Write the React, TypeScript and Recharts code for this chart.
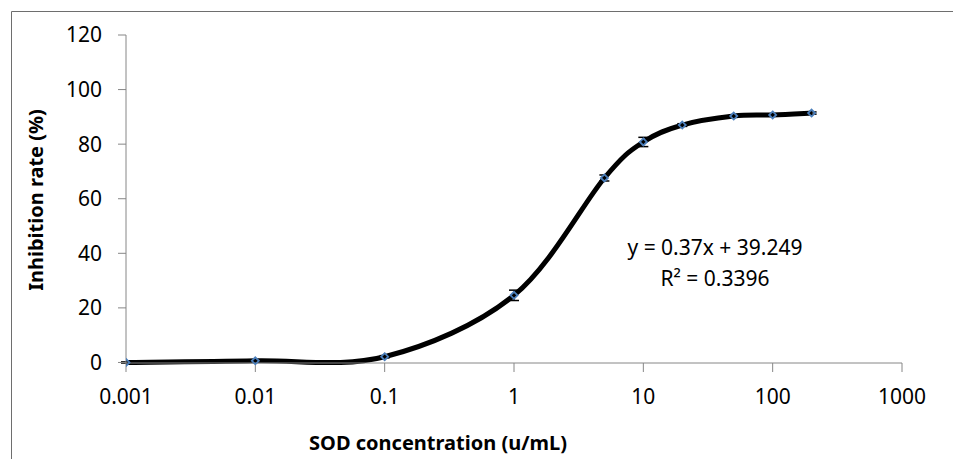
import React from "react";
import { ErrorBar, Line, LineChart, XAxis, YAxis } from "recharts";

const concentrations = [0.001, 0.01, 0.1, 1, 5, 10, 20, 50, 100, 200];
const inhibition = [0, 0.6, 2.1, 24.6, 67.6, 80.8, 87.0, 90.3, 90.7, 91.4];
const errors = [0.2, 0.2, 0.4, 1.9, 1.1, 1.7, 0.5, 0.4, 0.4, 0.4];

const xTicks = [0.001, 0.01, 0.1, 1, 10, 100, 1000];
const yTicks = [0, 20, 40, 60, 80, 100, 120];

const trendEquation = "y = 0.37x + 39.249";
const trendR2 = "R² = 0.3396";

const data = concentrations.map((x, i) => ({ x, y: inhibition[i], err: errors[i] }));

const FONT = "'Noto Sans', 'Open Sans', sans-serif";
const AXIS = "#868686";

// Excel-style smoothed line (Catmull-Rom through the points)
const excelSmooth = (ctx: any) => {
  let pts: number[][] = [];
  return {
    areaStart() {},
    areaEnd() {},
    lineStart() {
      pts = [];
    },
    point(x: number, y: number) {
      pts.push([+x, +y]);
    },
    lineEnd() {
      if (!pts.length) return;
      ctx.moveTo(pts[0][0], pts[0][1]);
      for (let i = 0; i < pts.length - 1; i++) {
        const p0 = pts[i - 1] || pts[i];
        const p1 = pts[i];
        const p2 = pts[i + 1];
        const p3 = pts[i + 2] || p2;
        ctx.bezierCurveTo(
          p1[0] + (p2[0] - p0[0]) / 6,
          p1[1] + (p2[1] - p0[1]) / 6,
          p2[0] - (p3[0] - p1[0]) / 6,
          p2[1] - (p3[1] - p1[1]) / 6,
          p2[0],
          p2[1]
        );
      }
    },
  };
};

const Diamond = (props: any) => {
  const { cx, cy, index } = props;
  if (cx == null || cy == null) return <g key={index} />;
  const r = 3.5;
  return (
    <path
      key={index}
      d={`M${cx},${cy - r}L${cx + r},${cy}L${cx},${cy + r}L${cx - r},${cy}Z`}
      fill="none"
      stroke="#4A7EBB"
      strokeWidth={1.8}
    />
  );
};

export default function App() {
  return (
    <div style={{ position: "absolute", left: 0, top: 0, width: 953, height: 459, background: "#fff" }}>
      <svg width={953} height={459} style={{ position: "absolute", left: 0, top: 0 }}>
        <line x1={11.5} y1={11.5} x2={953} y2={11.5} stroke="#6e6e6e" />
        <line x1={11.5} y1={11.5} x2={11.5} y2={459} stroke="#6e6e6e" />
        <text
          x={0}
          y={0}
          transform="translate(43,200) rotate(-90)"
          textAnchor="middle"
          fontFamily={FONT}
          fontSize={20}
          fontWeight="bold"
          fill="#000"
        >
          Inhibition rate (%)
        </text>
        <text x={438} y={450} textAnchor="middle" fontFamily={FONT} fontSize={20} fontWeight="bold" fill="#000">
          SOD concentration (u/mL)
        </text>
        <text x={715} y={255} textAnchor="middle" fontFamily={FONT} fontSize={21} fill="#000">
          {trendEquation}
        </text>
        <text x={715} y={286} textAnchor="middle" fontFamily={FONT} fontSize={21} fill="#000">
          {trendR2}
        </text>
      </svg>
      <div style={{ position: "absolute", left: 0, top: 0 }}>
        <LineChart width={953} height={459} data={data} margin={{ top: 35, right: 51, bottom: 56, left: 66 }}>
          <XAxis
            dataKey="x"
            type="number"
            scale="log"
            domain={[0.001, 1000]}
            ticks={xTicks}
            allowDataOverflow
            height={40}
            tickSize={9}
            tickMargin={17}
            stroke={AXIS}
            tick={{ fontSize: 21, fill: "#000", fontFamily: FONT }}
            tickFormatter={(v) => String(v)}
            interval={0}
          />
          <YAxis
            type="number"
            domain={[0, 120]}
            ticks={yTicks}
            width={60}
            tickSize={8}
            tickMargin={16}
            stroke={AXIS}
            tick={{ fontSize: 21, fill: "#000", fontFamily: FONT }}
            interval={0}
          />
          <Line
            dataKey="y"
            type={excelSmooth as any}
            stroke="#000"
            strokeWidth={5}
            dot={Diamond}
            activeDot={false}
            isAnimationActive={false}
          >
            <ErrorBar dataKey="err" direction="y" width={5} stroke="#000" strokeWidth={1.5} />
          </Line>
        </LineChart>
      </div>
    </div>
  );
}
